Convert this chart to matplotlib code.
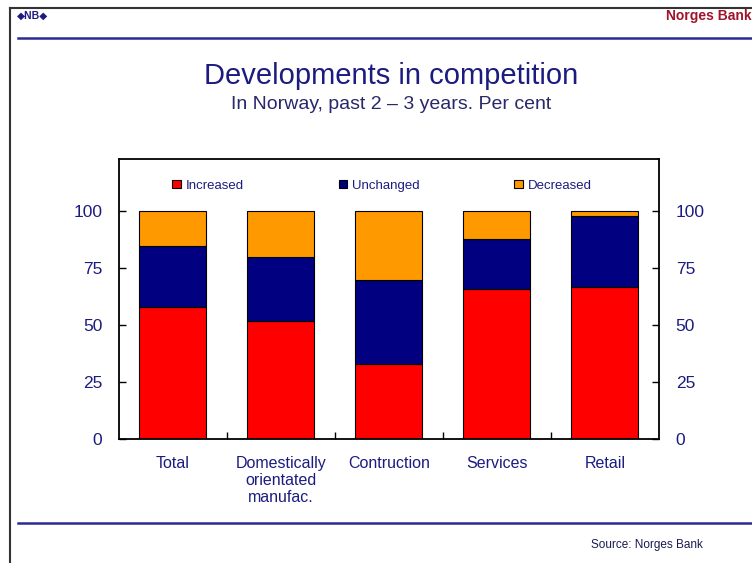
import numpy as np
import matplotlib
matplotlib.use("Agg")
import matplotlib.pyplot as plt
from matplotlib.patches import Patch
from matplotlib.lines import Line2D

plt.rcParams['font.family'] = ['Liberation Sans', 'DejaVu Sans']

categories = ['Total', 'Domestically\norientated\nmanufac.', 'Contruction', 'Services', 'Retail']
increased = [58, 52, 33, 66, 67]
unchanged = [27, 28, 37, 22, 31]
decreased = [15, 20, 30, 12, 2]

NAVY = '#1c1c80'
RED = '#ff0000'
DARKBLUE = '#000080'
ORANGE = '#ff9900'

fig = plt.figure(figsize=(7.52, 5.63), dpi=100)
ax = fig.add_axes([0.1582, 0.2202, 0.7181, 0.4973])

x = np.arange(len(categories))
inc = np.array(increased)
unc = np.array(unchanged)
dec = np.array(decreased)
w = 0.62
ax.bar(x, inc, w, color=RED, edgecolor='black', linewidth=0.8, label='Increased')
ax.bar(x, unc, w, bottom=inc, color=DARKBLUE, edgecolor='black', linewidth=0.8, label='Unchanged')
ax.bar(x, dec, w, bottom=inc + unc, color=ORANGE, edgecolor='black', linewidth=0.8, label='Decreased')

ax.set_xlim(-0.5, len(categories) - 0.5)
ax.set_ylim(0, 123)
ax.set_yticks([0, 25, 50, 75, 100])
ax.set_xticks(x)
ax.set_xticklabels(categories, color=NAVY, fontsize=11.5, linespacing=1.2)
ax.set_xticks(x[:-1] + 0.5, minor=True)
ax.tick_params(axis='x', which='major', length=0, pad=12)
ax.tick_params(axis='x', which='minor', direction='in', length=5, width=1)
ax.tick_params(axis='y', direction='in', length=5, width=1, labelsize=12.5,
               labelcolor=NAVY, left=True, right=True, labelleft=True, labelright=True, pad=12)
for s in ax.spines.values():
    s.set_linewidth(1.3)

handles = [Patch(facecolor=RED, edgecolor='black', linewidth=0.8),
           Patch(facecolor=DARKBLUE, edgecolor='black', linewidth=0.8),
           Patch(facecolor=ORANGE, edgecolor='black', linewidth=0.8)]
ax.legend(handles, ['Increased', 'Unchanged', 'Decreased'], ncol=3, loc='center',
          bbox_to_anchor=(0.487, 0.905), frameon=False, fontsize=9.5, labelcolor=NAVY,
          handlelength=0.65, handleheight=0.65, handletextpad=0.35, columnspacing=7.2)

fig.text(0.52, 0.865, 'Developments in competition', ha='center', va='center',
         fontsize=21, color=NAVY)
fig.text(0.52, 0.815, 'In Norway, past 2 \u2013 3 years. Per cent', ha='center', va='center',
         fontsize=14, color='#28286a')

# page frame and header / footer rules
fig.add_artist(Line2D([0.013, 0.013], [0.0, 0.985], color='#333333', linewidth=1.5))
fig.add_artist(Line2D([0.013, 1.0], [0.985, 0.985], color='#333333', linewidth=1.5))
fig.add_artist(Line2D([0.024, 1.0], [1 - 38 / 563] * 2, color='#2a2a90', linewidth=1.8))
fig.add_artist(Line2D([0.024, 1.0], [1 - 523 / 563] * 2, color='#2a2a90', linewidth=1.8))
fig.text(0.022, 1 - 16 / 563, '\u25c6NB\u25c6', ha='left', va='center', fontsize=7.5,
         color=NAVY, fontweight='bold')
fig.text(1.0, 1 - 16 / 563, 'Norges Bank', ha='right', va='center', fontsize=10,
         color='#a0142a', fontweight='bold')
fig.text(0.935, 1 - 545 / 563, 'Source: Norges Bank', ha='right', va='center', fontsize=8.5,
         color='#1a1a50')

fig.savefig('out.png', dpi=100)
